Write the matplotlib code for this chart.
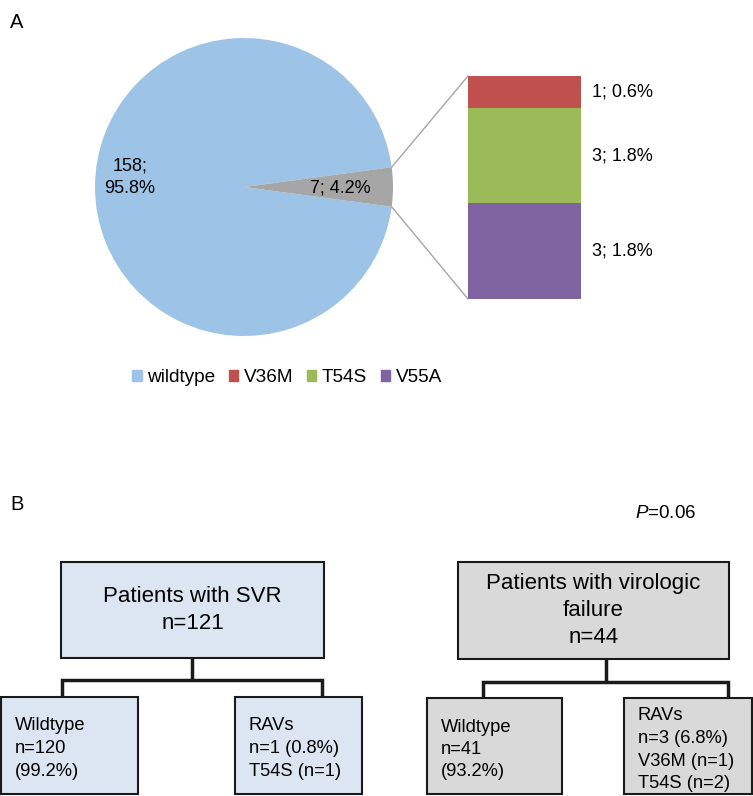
import matplotlib
matplotlib.use('Agg')
import matplotlib.pyplot as plt
from matplotlib.patches import Patch, Rectangle
import numpy as np

plt.rcParams['font.family'] = ['Liberation Sans', 'DejaVu Sans']
plt.rcParams['mathtext.fontset'] = 'custom'
plt.rcParams['mathtext.rm'] = 'Liberation Sans'
plt.rcParams['mathtext.it'] = 'Liberation Sans:italic'

# panel A data
pie_labels = ['wildtype', 'RAVs']
pie_counts = [158, 7]
rav_labels = ['V36M', 'T54S', 'V55A']
rav_counts = [1, 3, 3]
pie_colors = ['#9dc3e6', '#a6a6a6']
rav_colors = ['#c0504d', '#9bbb59', '#8064a2']

# panel B data
top_boxes = [['Patients with SVR', 'n=121'],
             ['Patients with virologic', 'failure', 'n=44']]
child_boxes = [['Wildtype', 'n=120', '(99.2%)'],
               ['RAVs', 'n=1 (0.8%)', 'T54S (n=1)'],
               ['Wildtype', 'n=41', '(93.2%)'],
               ['RAVs', 'n=3 (6.8%)', 'V36M (n=1)', 'T54S (n=2)']]
p_value = 0.06

W, H = 753, 796
fig = plt.figure(figsize=(W / 100, H / 100), dpi=100)
ax = fig.add_axes([0, 0, 1, 1])

total = sum(pie_counts)

# pie, small slice centred on the right
cx, cy, r = 244, 187, 149
half = 180.0 * pie_counts[1] / total
ax.pie(pie_counts, colors=pie_colors, startangle=half, center=(cx, cy), radius=r,
       wedgeprops=dict(linewidth=0))
ax.set_xlim(0, W)
ax.set_ylim(H, 0)
ax.set_aspect('auto')
ax.axis('off')

ax.text(130, 177, '%d;\n%.1f%%' % (pie_counts[0], 100.0 * pie_counts[0] / total),
        ha='center', va='center', fontsize=13, linespacing=1.4)
ax.text(340, 188, '%d; %.1f%%' % (pie_counts[1], 100.0 * pie_counts[1] / total),
        ha='center', va='center', fontsize=13)

# bar of the RAVs
bar_left, bar_w, bar_top, bar_h = 468, 113, 76, 223
scale = bar_h / sum(rav_counts)
bottom = bar_top
for n, c in zip(rav_counts, rav_colors):
    ax.bar(bar_left + bar_w / 2, n * scale, bottom=bottom, width=bar_w, color=c,
           linewidth=0)
    ax.text(592, bottom + n * scale / 2, '%d; %.1f%%' % (n, 100.0 * n / total),
            ha='left', va='center', fontsize=13)
    bottom += n * scale

# lines from slice to bar
ex = cx + r * np.cos(np.radians(half))
ey = r * np.sin(np.radians(half))
ax.plot([ex, bar_left], [cy - ey, bar_top], color='#a6a6a6', lw=1)
ax.plot([ex, bar_left], [cy + ey, bar_top + bar_h], color='#a6a6a6', lw=1)

handles = [Patch(color=pie_colors[0])] + [Patch(color=c) for c in rav_colors]
fig.legend(handles, [pie_labels[0]] + rav_labels, loc='center',
           bbox_to_anchor=(287 / W, 1 - 378 / H), ncol=4, frameon=False,
           handlelength=0.5, handleheight=0.5, handletextpad=0.3,
           columnspacing=0.7, fontsize=13.7)

ax.text(10, 22, 'A', fontsize=14.5, va='center')
ax.text(10, 505, 'B', fontsize=14.5, va='center')
ax.text(635, 513, r'$\it{P}$=%.2f' % p_value, fontsize=13.5, va='center')

# flow boxes
box_fill = ['#dce6f2', '#d9d9d9']
edge = '#1a1a1a'
tops = [(61, 562, 263, 96), (458, 562, 271, 97)]
for (x, y, w, h), lines, fc in zip(tops, top_boxes, box_fill):
    ax.add_patch(Rectangle((x, y), w, h, facecolor=fc, edgecolor=edge, lw=1.5))
    ax.text(x + w / 2, y + h / 2, '\n'.join(lines), ha='center', va='center',
            fontsize=16, linespacing=1.4)

kids = [(1, 697, 137, 97), (235, 697, 127, 97), (427, 698, 135, 96), (624, 698, 128, 96)]
kid_text_y = [714, 714, 715, 704]
for i, ((x, y, w, h), lines) in enumerate(zip(kids, child_boxes)):
    fc = box_fill[0] if i < 2 else box_fill[1]
    ax.add_patch(Rectangle((x, y), w, h, facecolor=fc, edgecolor=edge, lw=1.5))
    for j, s in enumerate(lines):
        ax.text(x + 14, kid_text_y[i] + 12 + j * 22.5, s, ha='left', va='center',
                fontsize=13.2)

# connectors
conns = [(192, 658, 680, 62, 322, 697), (606, 659, 682, 483, 728, 698)]
for xm, y0, yh, xl, xr, y1 in conns:
    ax.plot([xm, xm], [y0, yh], color=edge, lw=2.5, solid_capstyle='butt')
    ax.plot([xl, xl, xr, xr], [y1, yh, yh, y1], color=edge, lw=2.5,
            solid_joinstyle='miter', solid_capstyle='butt')

fig.savefig('out.png', dpi=100)
